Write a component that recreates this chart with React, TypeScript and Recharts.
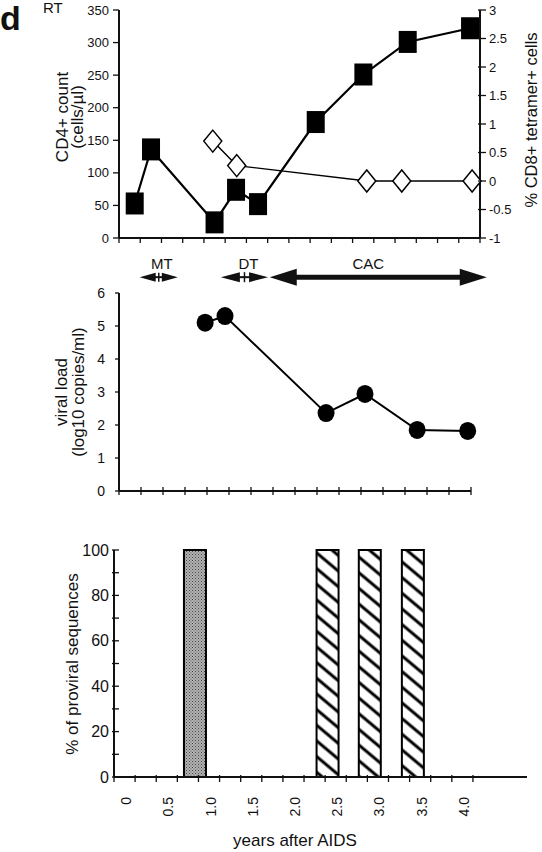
import React from 'react';
import { ComposedChart, BarChart, Bar, Cell, Scatter, XAxis, YAxis, ReferenceLine } from 'recharts';

const FONT = '"Liberation Sans", Arial, Helvetica, sans-serif';
const INK = '#111';

// CD4+ count (cells/µl) - filled squares
const cd4Years = [-0.065, 0.127, 0.875, 1.128, 1.387, 2.066, 2.627, 3.149, 3.883];
const cd4Counts = [53, 136, 24, 74, 52, 178, 251, 301, 322];

// % CD8+ tetramer+ cells - open diamonds
const tetYears = [0.854, 1.136, 2.667, 3.079, 3.907];
const tetPercents = [0.7, 0.27, 0, 0, 0];

// viral load (log10 copies/ml)
const vlYears = [0.79, 1.03, 2.25, 2.72, 3.35, 3.96];
const vlLogs = [5.1, 5.3, 2.36, 2.94, 1.85, 1.82];

// % of proviral sequences
const seqYears = [0.71, 2.28, 2.78, 3.29];
const seqPercents = [100, 100, 100, 100];
const seqFills = ['stipple', 'hatch', 'hatch', 'hatch'];

// treatment periods (years)
const periodNames = ['MT', 'DT', 'CAC'];
const periodStarts = [0, 0.98, 1.57];
const periodEnds = [0.46, 1.55, 4.19];

// axis ticks
const cd4Ticks = [0, 50, 100, 150, 200, 250, 300, 350];
const tetTicks = [-1, -0.5, 0, 0.5, 1, 1.5, 2, 2.5, 3];
const vlTicks = [0, 1, 2, 3, 4, 5, 6];
const seqTicks = [0, 10, 20, 30, 40, 50, 60, 70, 80, 90, 100];
const seqLabelled = [0, 20, 40, 60, 80, 100];
const quarterTicks = [-0.25, 0, 0.25, 0.5, 0.75, 1, 1.25, 1.5, 1.75, 2, 2.25, 2.5, 2.75, 3, 3.25, 3.5, 3.75, 4];
const yearLabelValues = [0, 0.5, 1, 1.5, 2, 2.5, 3, 3.5, 4];
const yearLabels = ['0', '0.5', '1.0', '1.5', '2.0', '2.5', '3.0', '3.5', '4.0'];

const cd4Data = cd4Years.map((year, i) => ({ year, cd4: cd4Counts[i] }));
const tetData = tetYears.map((year, i) => ({ year, tet: tetPercents[i] }));
const vlData = vlYears.map((year, i) => ({ year, vl: vlLogs[i] }));
const seqData = seqYears.map((year, i) => ({ year, pct: seqPercents[i], fill: seqFills[i] }));

// middle panel axis has 16 even intervals
const midTicks = Array.from({ length: 17 }, (_, i) => -0.25 + (i * 4.25) / 16);
const ARROW_LEVEL = 6.48;

const axisLine = { stroke: INK, strokeWidth: 2 };

const Square = (p: any) =>
  p.cx == null ? null : <rect x={p.cx - 9} y={p.cy - 11} width={18} height={22} fill="#000" />;

const Diamond = (p: any) =>
  p.cx == null ? null : (
    <polygon
      points={`${p.cx},${p.cy - 11} ${p.cx + 9},${p.cy} ${p.cx},${p.cy + 11} ${p.cx - 9},${p.cy}`}
      fill="#fff"
      stroke="#000"
      strokeWidth={1.5}
    />
  );

const Dot = (p: any) => (p.cx == null ? null : <ellipse cx={p.cx} cy={p.cy} rx={8.5} ry={9} fill="#000" />);

const TopXTick = (p: any) => <line x1={p.x} x2={p.x} y1={p.y} y2={p.y + 5} stroke={INK} strokeWidth={1.3} />;
const MidXTick = (p: any) => <line x1={p.x} x2={p.x} y1={p.y - 4} y2={p.y + 4} stroke={INK} strokeWidth={1.3} />;

const BotXTick = (p: any) => {
  const idx = yearLabelValues.indexOf(p.payload.value);
  const lx = p.x - 4;
  const ly = p.y + 20;
  return (
    <g>
      <line x1={p.x} x2={p.x} y1={p.y - 2} y2={p.y + 5} stroke={INK} strokeWidth={1.3} />
      {idx >= 0 && (
        <text x={lx} y={ly} transform={`rotate(-90 ${lx} ${ly})`} textAnchor="end" fontSize={14} fill={INK}>
          {yearLabels[idx]}
        </text>
      )}
    </g>
  );
};

const makeLeftTick = (len: number, gap: number, size: number) => (p: any) => (
  <g>
    <line x1={p.x - len} x2={p.x} y1={p.y} y2={p.y} stroke={INK} strokeWidth={1.3} />
    <text x={p.x - gap} y={p.y} dy="0.35em" textAnchor="end" fontSize={size} fill={INK}>
      {p.payload.value}
    </text>
  </g>
);

const RightTick = (p: any) => (
  <g>
    <line x1={p.x - 2} x2={p.x + 6} y1={p.y} y2={p.y} stroke={INK} strokeWidth={1.3} />
    <text x={p.x + 9} y={p.y} dy="0.35em" textAnchor="start" fontSize={13} fill={INK}>
      {p.payload.value}
    </text>
  </g>
);

const BotYTick = (p: any) => (
  <g>
    <line x1={p.x - 2} x2={p.x + 5} y1={p.y} y2={p.y} stroke={INK} strokeWidth={1.3} />
    {seqLabelled.includes(p.payload.value) && (
      <text x={p.x - 5} y={p.y} dy="0.35em" textAnchor="end" fontSize={16} fill={INK}>
        {p.payload.value}
      </text>
    )}
  </g>
);

const RotTitle = ({ x, cy, lines, gap = 15, size = 17 }: { x: number; cy: number; lines: string[]; gap?: number; size?: number }) => (
  <text x={x} y={cy} transform={`rotate(-90 ${x} ${cy})`} textAnchor="middle" fontSize={size} fill={INK}>
    {lines.map((l, i) => (
      <tspan key={l} x={x} dy={i === 0 ? 0 : gap}>
        {l}
      </tspan>
    ))}
  </text>
);

const arrowStyles: Record<string, { head: number; half: number; shaft: number; joint: boolean; dx: number }> = {
  MT: { head: 16, half: 4.5, shaft: 2, joint: true, dx: 3 },
  DT: { head: 19, half: 5, shaft: 2, joint: true, dx: 4 },
  CAC: { head: 27, half: 8.5, shaft: 5, joint: false, dx: -10 },
};

const PeriodArrow = (p: any) => {
  if (p.x1 == null) return null;
  const s = arrowStyles[p.name];
  const { x1, x2 } = p;
  const y = p.y1;
  const mid = (x1 + x2) / 2;
  return (
    <g>
      <line x1={x1 + s.head - 1} x2={x2 - s.head + 1} y1={y} y2={y} stroke={INK} strokeWidth={s.shaft} />
      <polygon points={`${x1},${y} ${x1 + s.head},${y - s.half} ${x1 + s.head},${y + s.half}`} fill={INK} />
      <polygon points={`${x2},${y} ${x2 - s.head},${y - s.half} ${x2 - s.head},${y + s.half}`} fill={INK} />
      {s.joint && <line x1={mid} x2={mid} y1={y - s.half} y2={y + s.half} stroke={INK} strokeWidth={1.5} />}
      <text x={mid + s.dx} y={y - 8} textAnchor="middle" fontSize={15} fill={INK}>
        {p.name}
      </text>
    </g>
  );
};

export default function App() {
  return (
    <div
      style={{
        position: 'absolute',
        left: 0,
        top: 0,
        width: 542,
        height: 852,
        background: '#fff',
        fontFamily: FONT,
        color: INK,
        overflow: 'hidden',
      }}
    >
      <div style={{ position: 'absolute', left: 0, top: -1, fontSize: 34, fontWeight: 'bold', lineHeight: 'normal' }}>d</div>
      <div style={{ position: 'absolute', left: 43, top: -1, fontSize: 15, lineHeight: 'normal' }}>RT</div>

      <div style={{ position: 'absolute', left: 0, top: 0 }}>
        <ComposedChart width={542} height={250} margin={{ top: 10, right: 0, bottom: 2, left: 0 }}>
          <XAxis
            type="number"
            dataKey="year"
            domain={[-0.25, 4]}
            ticks={quarterTicks}
            interval={0}
            height={10}
            axisLine={axisLine}
            tickLine={false}
            tickSize={0}
            tickMargin={0}
            tick={TopXTick}
          />
          <YAxis
            yAxisId="cd4"
            dataKey="cd4"
            domain={[0, 350]}
            ticks={cd4Ticks}
            interval={0}
            width={119}
            axisLine={axisLine}
            tickLine={false}
            tickSize={0}
            tickMargin={0}
            tick={makeLeftTick(6, 10, 13)}
            label={{ content: () => <RotTitle x={68} cy={117} lines={['CD4+ count', '(cells/µl)']} /> }}
          />
          <YAxis
            yAxisId="tet"
            orientation="right"
            dataKey="tet"
            domain={[-1, 3]}
            ticks={tetTicks}
            interval={0}
            width={62}
            axisLine={axisLine}
            tickLine={false}
            tickSize={0}
            tickMargin={0}
            tick={RightTick}
            label={{ content: () => <RotTitle x={537} cy={120} size={16.5} lines={['% CD8+ tetramer+ cells']} /> }}
          />
          <Scatter
            yAxisId="cd4"
            data={cd4Data}
            dataKey="cd4"
            line={{ stroke: '#000', strokeWidth: 2.2 }}
            shape={Square}
            isAnimationActive={false}
          />
          <Scatter
            yAxisId="tet"
            data={tetData}
            dataKey="tet"
            line={{ stroke: '#000', strokeWidth: 1.4 }}
            shape={Diamond}
            isAnimationActive={false}
          />
        </ComposedChart>
      </div>

      <div style={{ position: 'absolute', left: 0, top: 250 }}>
        <ComposedChart width={542} height={253} margin={{ top: 43, right: 71, bottom: 2, left: 0 }}>
          <XAxis
            type="number"
            dataKey="year"
            domain={[-0.25, 4]}
            ticks={midTicks}
            interval={0}
            height={10}
            axisLine={axisLine}
            tickLine={false}
            tickSize={0}
            tickMargin={0}
            tick={MidXTick}
          />
          <YAxis
            dataKey="vl"
            domain={[0, 6]}
            ticks={vlTicks}
            interval={0}
            width={119}
            axisLine={axisLine}
            tickLine={false}
            tickSize={0}
            tickMargin={0}
            tick={makeLeftTick(4, 14, 14)}
            label={{ content: () => <RotTitle x={67} cy={142} lines={['viral load', '(log10 copies/ml)']} gap={17} /> }}
          />
          {periodNames.map((name, i) => (
            <ReferenceLine
              key={name}
              segment={[
                { x: periodStarts[i], y: ARROW_LEVEL },
                { x: periodEnds[i], y: ARROW_LEVEL },
              ]}
              ifOverflow="visible"
              shape={(p: any) => <PeriodArrow {...p} name={name} />}
            />
          ))}
          <Scatter
            data={vlData}
            dataKey="vl"
            line={{ stroke: '#000', strokeWidth: 2 }}
            shape={Dot}
            isAnimationActive={false}
          />
        </ComposedChart>
      </div>

      <div style={{ position: 'absolute', left: 0, top: 530 }}>
        <BarChart width={542} height={322} margin={{ top: 20, right: 15, bottom: 0, left: 0 }} data={seqData} barSize={22}>
          <defs>
            <pattern id="stipple" width="3" height="3" patternUnits="userSpaceOnUse">
              <rect width="3" height="3" fill="#b4b4b4" />
              <rect x="0" y="0" width="1" height="1" fill="#444" />
              <rect x="1.5" y="1.5" width="1" height="1" fill="#555" />
            </pattern>
            <pattern id="hatch" width="12" height="12" patternUnits="userSpaceOnUse" patternTransform="rotate(40)">
              <rect width="12" height="12" fill="#fff" />
              <line x1="0" y1="6" x2="12" y2="6" stroke="#000" strokeWidth="3" />
            </pattern>
          </defs>
          <XAxis
            type="number"
            dataKey="year"
            domain={[-0.25, 4.64]}
            ticks={quarterTicks}
            interval={0}
            height={75}
            axisLine={axisLine}
            tickLine={false}
            tickSize={0}
            tickMargin={0}
            tick={BotXTick}
            label={{
              content: () => (
                <text x={295} y={316} textAnchor="middle" fontSize={17} fill={INK}>
                  years after AIDS
                </text>
              ),
            }}
          />
          <YAxis
            domain={[0, 100]}
            ticks={seqTicks}
            interval={0}
            width={114}
            axisLine={axisLine}
            tickLine={false}
            tickSize={0}
            tickMargin={0}
            tick={BotYTick}
            label={{ content: () => <RotTitle x={78} cy={134} lines={['% of proviral sequences']} /> }}
          />
          <Bar dataKey="pct" stroke="#000" strokeWidth={2} isAnimationActive={false}>
            {seqData.map((d) => (
              <Cell key={d.year} fill={`url(#${d.fill})`} />
            ))}
          </Bar>
        </BarChart>
      </div>
    </div>
  );
}
